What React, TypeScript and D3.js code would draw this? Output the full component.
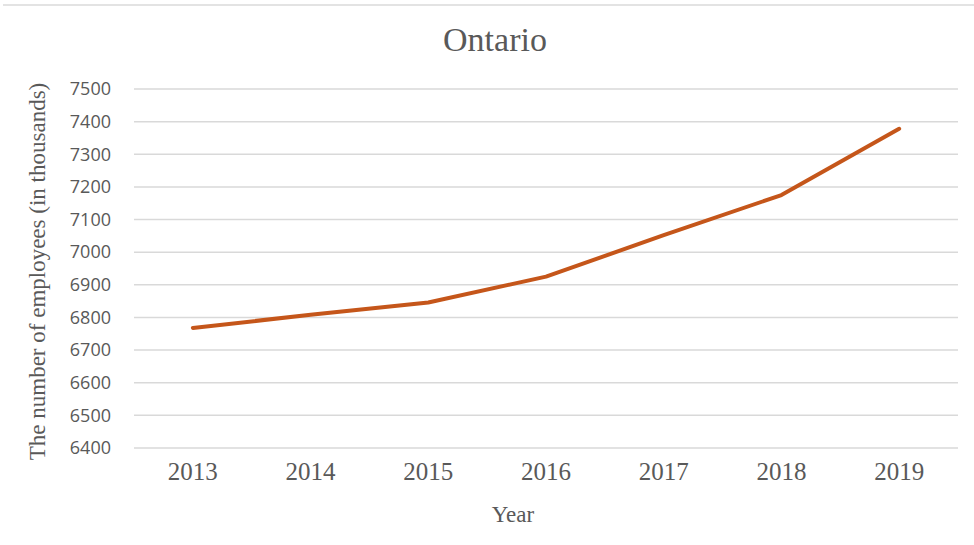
import React from "react";
import * as d3 from "d3";

const years = ["2013", "2014", "2015", "2016", "2017", "2018", "2019"];
const employees = [6768, 6808, 6846, 6925, 7052, 7175, 7378];
const yTicks = [6400, 6500, 6600, 6700, 6800, 6900, 7000, 7100, 7200, 7300, 7400, 7500];
const title = "Ontario";
const xTitle = "Year";
const yTitle = "The number of employees (in thousands)";

const W = 974;
const H = 545;
const left = 134;
const right = 958;
const top = 89;
const bottom = 448;

export default function App() {
  const x = d3.scaleBand<string>().domain(years).range([left, right]);
  const y = d3.scaleLinear().domain([6400, 7500]).range([bottom, top]);
  const line = d3
    .line<number>()
    .x((_, i) => (x(years[i]) as number) + x.bandwidth() / 2)
    .y((d) => y(d));
  const textColor = "#595959";
  const serif = "'Liberation Serif', 'Times New Roman', serif";
  return (
    <svg
      width={W}
      height={H}
      style={{ position: "absolute", left: 0, top: 0, background: "#fff" }}
    >
      <line x1={3} x2={W} y1={5} y2={5} stroke="#e3e3e3" strokeWidth={2} />
      <text x={495} y={51} textAnchor="middle" fontFamily={serif} fontSize={34} fill={textColor}>
        {title}
      </text>
      {yTicks.map((t) => (
        <g key={t}>
          <line x1={left} x2={right} y1={y(t)} y2={y(t)} stroke="#d9d9d9" strokeWidth={1.5} />
          <text
            x={111}
            y={y(t)}
            dy="0.35em"
            textAnchor="end"
            fontFamily="'Open Sans', sans-serif"
            fontSize={18}
            fill={textColor}
          >
            {t}
          </text>
        </g>
      ))}
      {years.map((yr) => (
        <text
          key={yr}
          x={(x(yr) as number) + x.bandwidth() / 2}
          y={480}
          textAnchor="middle"
          fontFamily={serif}
          fontSize={25}
          fill={textColor}
        >
          {yr}
        </text>
      ))}
      <path
        d={line(employees) || ""}
        fill="none"
        stroke="#C5561A"
        strokeWidth={4}
        strokeLinecap="round"
        strokeLinejoin="round"
      />
      <text x={513} y={522} textAnchor="middle" fontFamily={serif} fontSize={23} fill={textColor}>
        {xTitle}
      </text>
      <text
        transform={`translate(45, ${(top + bottom) / 2 + 3}) rotate(-90)`}
        textAnchor="middle"
        fontFamily={serif}
        fontSize={23}
        fill={textColor}
      >
        {yTitle}
      </text>
    </svg>
  );
}
